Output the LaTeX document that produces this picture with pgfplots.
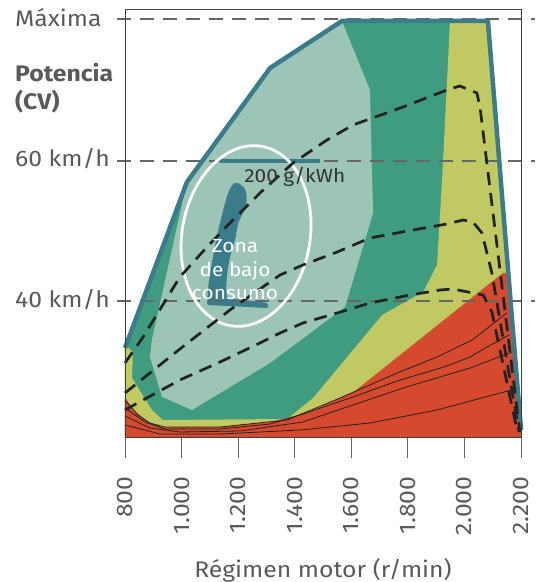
\documentclass[border=0pt]{standalone}
\usepackage{fontspec}
\setmainfont{Fira Sans}[FakeStretch=1.1]
\usepackage{pgfplots}
\pgfplotsset{compat=1.18}
\definecolor{sage}{HTML}{9CC4B7}
\definecolor{mgreen}{HTML}{3F9C80}
\definecolor{ygreen}{HTML}{C1C963}
\definecolor{rred}{HTML}{D5492F}
\definecolor{teal2}{HTML}{3B7C8B}
\definecolor{txtgray}{HTML}{5A5A5A}
\definecolor{dashblk}{HTML}{222222}
\begin{document}
\begin{tikzpicture}
\useasboundingbox (-125bp,-145bp) rectangle (424bp,437bp);
\begin{axis}[
  name=ax,
  scale only axis, width=396bp, height=427.5bp,
  xmin=800, xmax=2200, ymin=0, ymax=427.5,
  axis line style={draw=black!75, line width=0.9bp},
  ytick=\empty,
  xtick={800,1000,...,2200},
  xticklabels={800,1.000,1.200,1.400,1.600,1.800,2.000,2.200},
  xtick pos=bottom, tick align=outside, major tick length=21bp,
  tick style={black!60, line width=0.9bp},
  xticklabel style={yshift=-15bp, rotate=90, anchor=east, font=\fontsize{22.5bp}{26bp}\selectfont, text=txtgray},
  clip=false, axis on top=true, no markers,
]
% regions
\addplot[fill=mgreen, draw=none] coordinates {(800,0)(800,89)(1019,255)(1313,369)(1567,416)(2083,416)(2200,7)(2200,0)} -- cycle;
\addplot[fill=ygreen, draw=none] coordinates {(800,0)(800,92)(828,85)(825,59)(895,27)(934,17)(1373,18)(1465,39)(1709,122)(1854,145)(1903,172)(1921,257)(1949,416)(2083,416)(2200,7)(2200,0)} -- cycle;
\addplot[fill=rred, draw=none] coordinates {(800,0)(800,40)(828,27)(888,14)(934,10)(1136,10)(1313,15)(1443,24)(1613,46)(2136,164)(2155,164)(2200,7)(2200,0)} -- cycle;
\addplot[fill=sage, draw=none] coordinates {(1019,254)(1313,369)(1567,416)(1666,347)(1677,224)(1578,130)(1313,74)(1037,27)(931,40)(888,80)(895,97)(1005,237)} -- cycle;
% low consumption island
\addplot[fill=teal2, draw=none, rounded corners=2bp] coordinates {(1196,255)(1224,249)(1231,240)(1228,230)(1210,220)(1200,214)(1189,197)(1171,180)(1161,164)(1157,147)(1161,139)(1306,134)(1306,129)(1090,132)(1093,147)(1101,164)(1111,180)(1122,197)(1136,214)(1150,230)(1164,244)(1178,252)} -- cycle;
% reference dashed lines
\addplot[draw=black!60, line width=1.1bp, dash pattern=on 14bp off 9bp] coordinates {(772,418)(2250,418)};
\addplot[draw=black!60, line width=1.1bp, dash pattern=on 14bp off 9bp] coordinates {(772,276)(2250,276)};
\addplot[draw=black!60, line width=1.1bp, dash pattern=on 14bp off 9bp] coordinates {(772,136)(2250,136)};
% 200 g/kWh bar
\addplot[draw=teal2, line width=4bp] coordinates {(1136,276)(1489,276)};
% ellipse
\draw[white, line width=2.8bp] (axis cs:1228,201) ellipse [x radius=64bp, y radius=91bp, rotate=-10];
% envelope border
\addplot[draw=teal2, line width=4.5bp, line join=round] coordinates {(800,89)(1019,255)(1313,369)(1567,416)(2083,416)(2200,7)};
% thin lines
\addplot[draw=dashblk, line width=0.8bp] coordinates {(800,37)(846,22)(888,14)(941,10)(1136,10)(1373,17)(1560,39)(1762,64)(1903,80)(2027,97)(2150,124)};
\addplot[draw=dashblk, line width=0.8bp] coordinates {(800,29)(871,15)(941,8)(1136,8)(1313,13)(1429,23)(1606,40)(1762,56)(1938,71)(2020,80)(2080,90)(2158,102)};
\addplot[draw=dashblk, line width=0.8bp] coordinates {(800,21)(888,9)(994,5)(1207,6)(1429,15)(1606,32)(1783,49)(2020,69)(2168,85)};
\addplot[draw=dashblk, line width=0.8bp] coordinates {(800,12)(924,3)(1136,3)(1419,7)(1666,14)(1903,27)(2179,48)};
% dashed load lines
\addplot[draw=dashblk, line width=2.7bp, dash pattern=on 13bp off 8bp] coordinates {(800,74)(864,100)(994,160)(1090,190)(1171,214)(1277,244)(1394,274)(1514,297)(1606,312)(1783,330)(1938,347)(1984,351)(2044,344)(2055,330)(2196,5)};
\addplot[draw=dashblk, line width=2.7bp, dash pattern=on 13bp off 8bp] coordinates {(800,44)(994,88)(1171,127)(1348,162)(1429,172)(1550,185)(1666,199)(1818,207)(1938,213)(1995,217)(2030,215)(2062,204)(2097,164)(2193,5)};
\addplot[draw=dashblk, line width=2.7bp, dash pattern=on 13bp off 8bp] coordinates {(800,27)(864,37)(994,57)(1136,75)(1277,94)(1348,104)(1429,114)(1550,124)(1666,134)(1808,142)(1914,147)(1960,148)(2030,144)(2066,142)(2097,125)(2186,7)};
% annotations
\node[text=white, align=center, font=\fontsize{19bp}{23.5bp}\selectfont] at (axis cs:1189,167) {Zona\\de bajo\\consumo};
\node[text=black!80, anchor=base west, inner sep=0pt, font=\fontsize{19bp}{22bp}\selectfont] at (axis cs:1221,254) {200 g/kWh};
% left labels
\node[text=txtgray, anchor=base west, inner sep=0pt, font=\fontsize{22.5bp}{26bp}\selectfont, xshift=-110bp] at (axis cs:800,410) {Máxima};
\node[text=txtgray, anchor=base west, inner sep=0pt, font=\fontsize{22.5bp}{26bp}\selectfont\bfseries, xshift=-110bp] at (axis cs:800,355) {Potencia};
\node[text=txtgray, anchor=base west, inner sep=0pt, font=\fontsize{22.5bp}{26bp}\selectfont\bfseries, xshift=-110bp] at (axis cs:800,327) {(CV)};
\node[text=txtgray, anchor=base west, inner sep=0pt, font=\fontsize{22.5bp}{26bp}\selectfont, xshift=-110bp] at (axis cs:800,270) {60 km/h};
\node[text=txtgray, anchor=base west, inner sep=0pt, font=\fontsize{22.5bp}{26bp}\selectfont, xshift=-110bp] at (axis cs:800,130) {40 km/h};
% x label
\node[text=txtgray, anchor=base, font=\fontsize{22.5bp}{26bp}\selectfont, yshift=-140bp] at (axis cs:1500,0) {Régimen motor (r/min)};
\end{axis}
\end{tikzpicture}
\end{document}
